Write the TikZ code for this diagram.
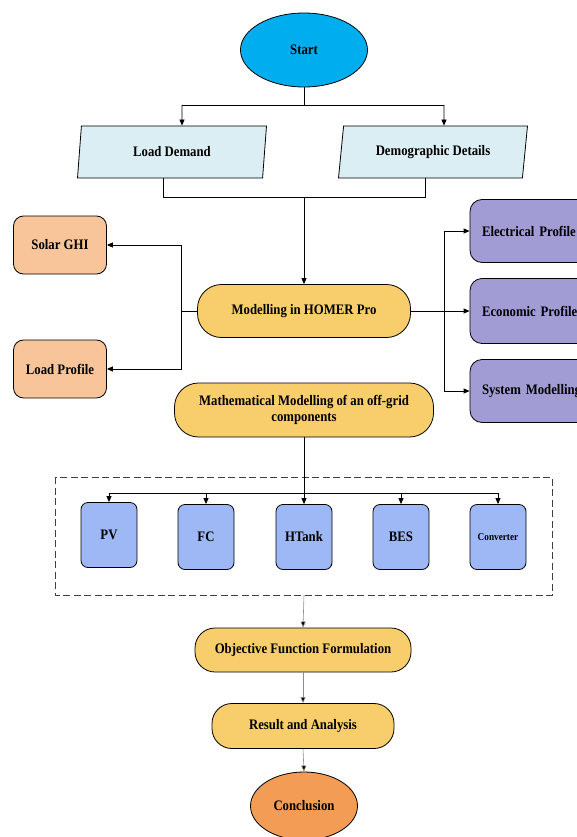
\documentclass[tikz,border=0pt]{standalone}
\usepackage{fontspec}
\setmainfont{Liberation Serif}[FakeStretch=0.88]
\usetikzlibrary{shapes.geometric,arrows.meta}
\definecolor{startc}{HTML}{00AEEF}
\definecolor{inputc}{HTML}{DAEEF3}
\definecolor{peach}{HTML}{F8C59B}
\definecolor{purp}{HTML}{A29CD4}
\definecolor{yell}{HTML}{F7CE6B}
\definecolor{bluec}{HTML}{9DB8F5}
\definecolor{conc}{HTML}{F29C55}
\definecolor{grayl}{HTML}{8C8C8C}
\begin{document}
\begin{tikzpicture}[x=1pt,y=-1pt,
  base/.style={draw=black, line width=0.8pt, font=\bfseries\fontsize{14.5}{16.5}\selectfont, align=center, inner sep=0pt},
  oval/.style={base, ellipse},
  para/.style={base, trapezium, trapezium left angle=69, trapezium right angle=111, trapezium stretches body, fill=inputc, minimum width=189pt, minimum height=52pt},
  pill/.style={base, rectangle, rounded corners=24pt, fill=yell},
  sidebox/.style={base, rectangle, rounded corners=10pt, fill=peach, minimum width=93pt, minimum height=58pt},
  rightbox/.style={base, rectangle, rounded corners=12pt, fill=purp, minimum height=63pt, text width=100pt, align=left, inner xsep=12pt},
  comp/.style={base, rectangle, rounded corners=7pt, fill=bluec, minimum width=56pt, minimum height=65pt},
  arr/.style={draw=black, line width=0.8pt, -{Triangle[length=6pt,width=5pt]}},
  ln/.style={draw=black, line width=0.8pt},
  garr/.style={draw=grayl, line width=0.6pt, -{Triangle[length=6pt,width=5pt,fill=black]}}
]
\useasboundingbox (0,0) rectangle (576,837);

% nodes
\node[oval, fill=startc, minimum width=127pt, minimum height=74pt] (S) at (304,50) {Start};
\node[para] (LD) at (172,152) {Load Demand};
\node[para] (DD) at (433,152) {Demographic Details};
\node[pill, minimum width=213pt, minimum height=53pt] (H) at (304,311) {Modelling in HOMER Pro};
\node[sidebox] (SG) at (60,245) {Solar GHI};
\node[sidebox] (LP) at (60,369) {Load Profile};
\node[rightbox] (EP) at (532,231) {Electrical Profile};
\node[rightbox, minimum height=65pt] (EC) at (532,311) {Economic Profile};
\node[rightbox] (SM) at (532,391) {System Modelling};
\node[pill, minimum width=259pt, minimum height=54pt] (MM) at (304,410) {Mathematical Modelling of an off-grid\\components};
\draw[line width=0.8pt, dash pattern=on 7pt off 3.5pt, draw=black!75] (55,477) rectangle (552,595);
\node[comp] (PV) at (109,535) {PV};
\node[comp] (FC) at (206,537) {FC};
\node[comp] (HT) at (304,537) {HTank};
\node[comp] (BE) at (401,537) {BES};
\node[comp, font=\bfseries\fontsize{10.5}{12}\selectfont] (CO) at (498,537) {Converter};
\coordinate (DB) at (304,595);
\node[pill, minimum width=216pt, minimum height=44pt, rounded corners=20pt] (OF) at (303,650) {Objective Function Formulation};
\node[pill, minimum width=182pt, minimum height=45pt, rounded corners=20pt] (RA) at (303,726) {Result and Analysis};
\node[oval, fill=conc, minimum width=107pt, minimum height=68pt] (C) at (304,806) {Conclusion};

% connectors
\draw[ln] (S.south) -- (S.south|-0,105);
\draw[arr] (182,105) -- ([xshift=10pt]LD.north);
\draw[arr] (444,105) -- ([xshift=11pt]DD.north);
\draw[ln] (182,105) -- (444,105);
\draw[ln] ([xshift=-9pt]LD.south) |- (304,197);
\draw[ln] ([xshift=-8pt]DD.south) |- (304,197);
\draw[arr] (304,197) -- (H.north);

\draw[ln] (H.west) -- (181,311);
\draw[arr] (181,311) |- (SG.east);
\draw[arr] (181,311) |- (LP.east);

\draw[arr] (H.east) -- (EC.west);
\draw[arr] (444,311) |- (EP.west);
\draw[arr] (444,311) |- (SM.west);

\draw[arr] (MM.south) -- (HT.north);
\draw[ln] (PV.north|-0,493) -- (CO.north|-0,493);
\draw[arr] (PV.north|-0,493) -- (PV.north);
\draw[arr] (FC.north|-0,493) -- (FC.north);
\draw[arr] (BE.north|-0,493) -- (BE.north);
\draw[arr] (CO.north|-0,493) -- (CO.north);

\draw[garr] (DB) -- (OF.north);
\draw[garr] (OF.south) -- (RA.north);
\draw[garr] (RA.south) -- (C.north);
\end{tikzpicture}
\end{document}
